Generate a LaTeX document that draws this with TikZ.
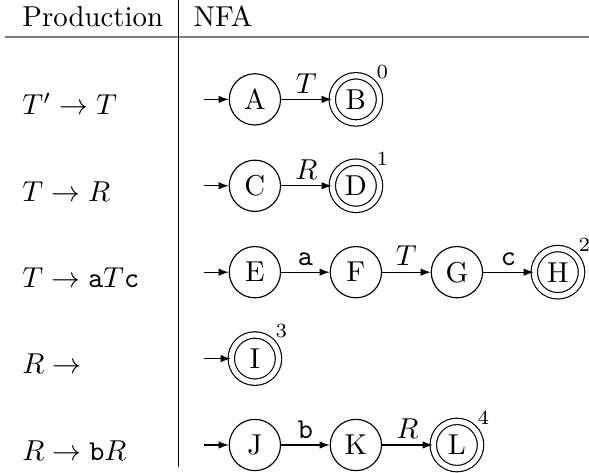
\documentclass[tikz,border=0pt]{standalone}
\usepackage{xcolor}
\usepackage{tikz}
\usetikzlibrary{arrows.meta,positioning,calc}
\definecolor{nfarule}{HTML}{7F7F7F}

\tikzset{
  nfastate/.style={draw, circle, line width=0.4pt, minimum size=17.8pt, inner sep=0pt},
  nfaacc/.style={nfastate, double, double distance=1.8pt, minimum size=16.4pt},
  tag/.style={font=\scriptsize, inner sep=0pt, label distance=1.5pt},
  trans/.style={-{Latex[length=3.5pt,width=2.6pt]}, line width=0.4pt},
  lbl/.style={above, inner sep=2pt},
  prod/.style={anchor=base west, inner sep=0pt}
}

\begin{document}
\begin{tikzpicture}[x=1pt, y=1pt, node distance=30pt and 35.07pt, on grid]
    \useasboundingbox (0,0) rectangle (204.5,-164.2);

    % table head and rules
    \node[prod] (hprod) at (7.6,-9.3) {Production};
    \node[prod] (hnfa) at (67,-9.3) {NFA};
    \draw[nfarule, line width=0.6pt] (1.7,-12.75) -- (204.5,-12.75);
    \draw[line width=0.4pt] (61.9,0) -- (61.9,-162.2);

    % productions
    \node[prod] (p0) at (7.6,-39.8) {$T' \to T$};
    \node[prod] (p1) at (7.6,-69.8) {$T \to R$};
    \node[prod] (p2) at (7.6,-99.8) {$T \to \mathtt{a}T\mathtt{c}$};
    \node[prod] (p3) at (7.6,-129.8) {$R \to$};
    \node[prod] (p4) at (7.6,-159.8) {$R \to \mathtt{b}R$};

    % states
    \node[nfastate] (A) at (88.5,-34.5) {A};
    \node[nfaacc, right=of A, label={[tag]45:0}] (B) {B};
    \node[nfastate, below=of A] (C) {C};
    \node[nfaacc, right=of C, label={[tag]45:1}] (D) {D};
    \node[nfastate, below=of C] (E) {E};
    \node[nfastate, right=of E] (F) {F};
    \node[nfastate, right=of F] (G) {G};
    \node[nfaacc, right=of G, label={[tag]45:2}] (H) {H};
    \node[nfaacc, below=of E, label={[tag]45:3}] (I) {I};
    \node[nfastate, below=of I] (J) {J};
    \node[nfastate, right=of J] (K) {K};
    \node[nfaacc, right=of K, label={[tag]45:4}] (L) {L};

    % start arrows
    \foreach \s in {A,C,E,I,J} {
        \coordinate (\s0) at ([xshift=-17.7pt]\s.center);
        \draw[trans] (\s0) -- (\s);
    }

    % transitions
    \draw[trans] (A) -- node[lbl] {$T$} (B);
    \draw[trans] (C) -- node[lbl] {$R$} (D);
    \draw[trans] (E) -- node[lbl] {\texttt{a}} (F);
    \draw[trans] (F) -- node[lbl] {$T$} (G);
    \draw[trans] (G) -- node[lbl] {\texttt{c}} (H);
    \draw[trans] (J) -- node[lbl] {\texttt{b}} (K);
    \draw[trans] (K) -- node[lbl] {$R$} (L);
\end{tikzpicture}
\end{document}
